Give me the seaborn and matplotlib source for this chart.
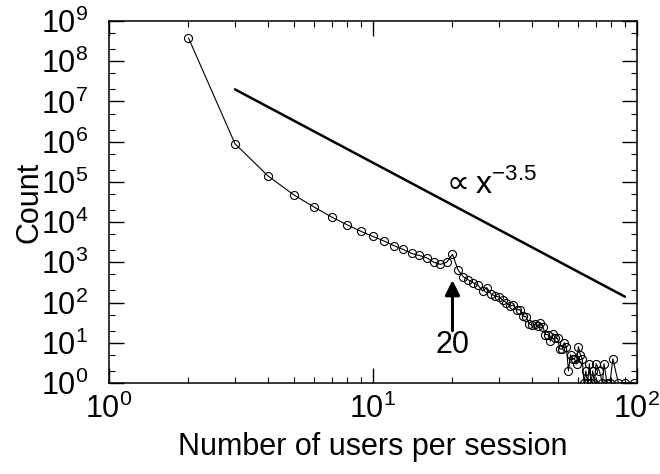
import numpy as np
import pandas as pd
import matplotlib
matplotlib.use("Agg")
import matplotlib.pyplot as plt
from matplotlib.ticker import LogLocator, NullFormatter
import seaborn as sns

# ---- data ----
users = [2, 3, 4, 5, 6, 7, 8, 9, 10, 11, 12, 13, 14, 15, 16, 17, 18, 19, 20,
         21, 22, 23, 24, 25, 26, 27, 28, 29, 30, 31, 32, 33, 34, 35, 36, 37, 38,
         39, 40, 41, 42, 43, 44, 45, 46, 47, 48, 49, 50, 51, 52, 53, 54, 55, 56,
         57, 58, 59, 60, 61, 62, 63, 64, 65, 66, 67, 68, 69, 70, 72, 74, 75, 77,
         79, 81, 85, 90, 97]
counts = [3.8e8, 8.9e5, 1.41e5, 4.8e4, 2.34e4, 1.32e4, 8.5e3, 5.9e3, 4.4e3,
          3.4e3, 2.6e3, 2.1e3, 1.66e3, 1.48e3, 1.29e3, 1.0e3, 890, 1.0e3, 1.58e3,
          645, 437, 363, 309, 269, 195, 234, 162, 145, 138, 115, 100, 81, 87, 65,
          67, 46, 44, 30, 27, 29, 26, 31, 25, 16, 16, 11, 17, 13, 13, 7, 7, 10, 8,
          2, 5, 4, 4, 3, 8, 5, 4, 1, 2, 1, 3, 1, 2, 1, 3, 2, 1, 3, 1,
          1, 4, 1, 1, 1]
guide_x = [3, 90]
guide_y = [2.0e7, 1.4e2]
peak_user = 20
arrow_from, arrow_to = 20, 360

xlabel = "Number of users per session"
ylabel = "Count"

df = pd.DataFrame({"users": users, "count": counts})
guide = pd.DataFrame({"x": guide_x, "y": guide_y})

sns.set_theme(style="ticks")
plt.rcParams["font.family"] = ["Liberation Sans", "DejaVu Sans"]
plt.rcParams["mathtext.fontset"] = "dejavusans"
plt.rcParams["text.color"] = "black"
plt.rcParams["axes.labelcolor"] = "black"

fig = plt.figure(figsize=(6.6, 4.74), dpi=100)
ax = fig.add_axes([109 / 660, 91 / 474, 528 / 660, 362 / 474])
ax.set_xscale("log")
ax.set_yscale("log")

sns.lineplot(data=df, x="users", y="count", ax=ax, color="black", lw=0.8,
             marker="o", markersize=5.8, markerfacecolor="none",
             markeredgecolor="black", markeredgewidth=0.8, sort=True,
             estimator=None)
sns.lineplot(data=guide, x="x", y="y", ax=ax, color="black", lw=1.8)

ax.set_xlim(1, 100)
ax.set_ylim(1, 1e9)

ax.annotate("", xy=(peak_user, arrow_to), xytext=(peak_user, arrow_from),
            arrowprops=dict(arrowstyle="-|>", color="black", lw=2.2,
                            mutation_scale=22, shrinkA=0, shrinkB=0))
ax.text(peak_user, 8.6, "20", ha="center", va="center", fontsize=22,
        color="black")
ax.text(18.0, 5.3e4, r"$\propto$x$^{\mathdefault{-3.5}}$", ha="left",
        va="baseline", fontsize=23, color="black")

ax.set_xlabel(xlabel, fontsize=22, labelpad=5, color="black")
ax.set_ylabel(ylabel, fontsize=22, labelpad=-3, color="black")

ax.xaxis.set_major_locator(LogLocator(base=10, numticks=10))
ax.xaxis.set_minor_locator(LogLocator(base=10, subs=np.arange(2, 10), numticks=20))
ax.yaxis.set_major_locator(LogLocator(base=10, numticks=20))
ax.yaxis.set_minor_locator(LogLocator(base=10, subs=(2.0, 5.0), numticks=40))
ax.xaxis.set_minor_formatter(NullFormatter())
ax.yaxis.set_minor_formatter(NullFormatter())
ax.tick_params(which="both", direction="in", top=True, right=True,
               colors="black", labelcolor="black", labelsize=22)
ax.tick_params(which="major", length=11, width=1.0)
ax.tick_params(axis="x", which="major", pad=8)
ax.tick_params(axis="y", which="major", pad=15)
ax.tick_params(which="minor", length=4.5, width=0.8)
for s in ax.spines.values():
    s.set_color("black")
    s.set_linewidth(1.1)

fig.savefig("out.png", dpi=100, facecolor="white")
